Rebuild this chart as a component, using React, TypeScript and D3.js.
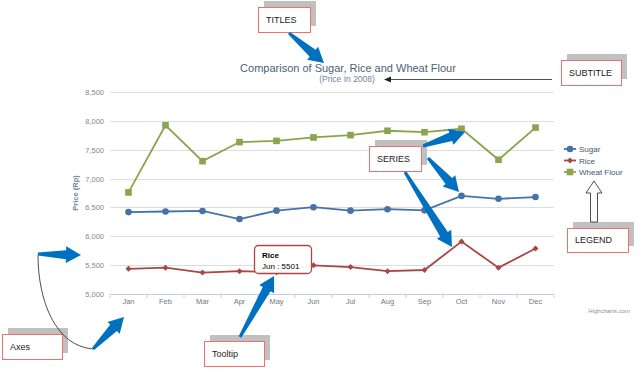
import React from "react";
import * as d3 from "d3";

const months = ["Jan","Feb","Mar","Apr","May","Jun","Jul","Aug","Sep","Oct","Nov","Dec"];
const sugar = [6420,6430,6440,6300,6445,6505,6445,6470,6450,6700,6650,6680];
const rice = [5440,5460,5375,5400,5380,5501,5470,5400,5420,5910,5460,5790];
const wheat = [6760,7920,7300,7630,7650,7710,7750,7825,7800,7860,7325,7880];
const yTicks = [5000,5500,6000,6500,7000,7500,8000,8500];
const seriesNames = ["Sugar","Rice","Wheat Flour"];
const seriesColors = ["#4572A7","#AA4643","#89A54E"];
const tooltipSeries = 1;
const tooltipIndex = 5;

const W = 640, H = 374;
const FONT = "'Liberation Sans', Arial, sans-serif";

type Arrow = { from: [number, number]; to: [number, number] };
const blueArrows: Arrow[] = [
  { from: [289, 33], to: [324, 63] },
  { from: [423, 146], to: [465, 132] },
  { from: [428, 158], to: [459, 192] },
  { from: [405, 172], to: [452, 247] },
  { from: [38, 254], to: [81, 255] },
  { from: [93, 349], to: [124, 317] },
  { from: [240, 337], to: [274, 276] },
];
const labelBoxes = [
  { text: "TITLES", x: 258, y: 7, w: 52, h: 25 },
  { text: "SUBTITLE", x: 561, y: 60, w: 60, h: 25 },
  { text: "SERIES", x: 369, y: 146, w: 52, h: 25 },
  { text: "LEGEND", x: 567, y: 228, w: 61, h: 24 },
  { text: "Axes", x: 2, y: 334, w: 60, h: 25 },
  { text: "Tooltip", x: 204, y: 341, w: 60, h: 25 },
];

function arrowPath(a: Arrow) {
  const [x0, y0] = a.from, [x1, y1] = a.to;
  const dx = x1 - x0, dy = y1 - y0;
  const L = Math.hypot(dx, dy);
  const ux = dx / L, uy = dy / L, nx = -uy, ny = ux;
  const hl = Math.min(15, L * 0.4), hw = 8.5, s0 = 1.5, s1 = 4.5;
  const bx = x1 - ux * hl, by = y1 - uy * hl;
  const pts = [
    [x0 + nx * s0, y0 + ny * s0],
    [bx + nx * s1, by + ny * s1],
    [bx + nx * hw, by + ny * hw],
    [x1, y1],
    [bx - nx * hw, by - ny * hw],
    [bx - nx * s1, by - ny * s1],
    [x0 - nx * s0, y0 - ny * s0],
  ];
  return "M" + pts.map(p => p[0].toFixed(1) + "," + p[1].toFixed(1)).join("L") + "Z";
}

export default function App() {
  const x = d3.scaleBand<string>().domain(months).range([110, 554]);
  const cx = (m: string) => (x(m) as number) + x.bandwidth() / 2;
  const y = d3.scaleLinear().domain([5000, 8500]).range([294.3, 91.7]);
  const data = [sugar, rice, wheat];
  const line = d3.line<number>().x((_, i) => cx(months[i])).y(v => y(v));
  const fmt = d3.format(",");

  const marker = (s: number, px: number, py: number, key: any) => {
    const c = seriesColors[s];
    if (s === 0) return <circle key={key} cx={px} cy={py} r={3.3} fill={c} />;
    if (s === 1) return <path key={key} d={`M${px},${py - 3}L${px + 3},${py}L${px},${py + 3}L${px - 3},${py}Z`} fill={c} />;
    return <rect key={key} x={px - 3.3} y={py - 3.3} width={6.6} height={6.6} fill={c} />;
  };

  const tv = data[tooltipSeries][tooltipIndex];

  return (
    <svg width={W} height={H} style={{ position: "absolute", left: 0, top: 0, background: "#fff" }} fontFamily={FONT}>
      {/* titles */}
      <text x={348} y={72} textAnchor="middle" fontSize={11} fill="#4D6178">Comparison of Sugar, Rice and Wheat Flour</text>
      <text x={347} y={82} textAnchor="middle" fontSize={8.5} fill="#6D869F">(Price In 2008)</text>

      {/* grid */}
      {yTicks.map(t => (
        <g key={t}>
          {t !== 5000 && <line x1={110} x2={554} y1={Math.round(y(t)) + 0.5} y2={Math.round(y(t)) + 0.5} stroke="#DDDDDD" />}
          <text x={104} y={y(t) + 3} textAnchor="end" fontSize={7.5} fill="#888">{fmt(t)}</text>
        </g>
      ))}
      <line x1={110} x2={554} y1={294.5} y2={294.5} stroke="#C0D0E0" />
      {d3.range(months.length + 1).map(i => {
        const xx = 110 + i * x.bandwidth();
        return <line key={i} x1={xx} x2={xx} y1={294.5} y2={298} stroke="#C0D0E0" />;
      })}
      {months.map(m => (
        <text key={m} x={cx(m)} y={304} textAnchor="middle" fontSize={7.5} fill="#777">{m}</text>
      ))}
      <text transform={`translate(78,${(y(5000) + y(8500)) / 2}) rotate(-90)`} textAnchor="middle" fontSize={7.5} fontWeight="bold" fill="#6D869F">Price (Rp)</text>

      {/* series */}
      {data.map((d, s) => (
        <g key={s}>
          <path d={line(d) as string} fill="none" stroke={seriesColors[s]} strokeWidth={1.8} />
          {d.map((v, i) => marker(s, cx(months[i]), y(v), i))}
        </g>
      ))}

      {/* legend */}
      {seriesNames.map((n, s) => {
        const ly = 149 + s * 11.5;
        return (
          <g key={n}>
            <line x1={564} x2={576} y1={ly} y2={ly} stroke={seriesColors[s]} strokeWidth={1.8} />
            {marker(s, 570, ly, "m")}
            <text x={579} y={ly + 3} fontSize={8} fill="#3E576F">{n}</text>
          </g>
        );
      })}
      <text x={630} y={313} textAnchor="end" fontSize={6} fill="#909090">Highcharts.com</text>

      {/* tooltip */}
      <rect x={254.5} y={245.5} width={57} height={28} rx={4} fill="#fff" fillOpacity={0.95} stroke={seriesColors[tooltipSeries]} strokeWidth={1.3} />
      <text x={262} y={258} fontSize={8} fontWeight="bold" fill="#000">{seriesNames[tooltipSeries]}</text>
      <text x={262} y={268.5} fontSize={8} fill="#000">{`${months[tooltipIndex]} : ${tv}`}</text>

      {/* annotation label boxes */}
      {labelBoxes.map(b => (
        <g key={b.text}>
          <rect x={b.x + 6} y={b.y - 6} width={b.w} height={b.h} fill="#C0C0C0" />
          <rect x={b.x + 0.5} y={b.y + 0.5} width={b.w} height={b.h} fill="#fff" stroke="#F07070" strokeWidth={1} />
          <text x={b.x + 8} y={b.y + b.h / 2 + 3} fontSize={9} fill="#222">{b.text}</text>
        </g>
      ))}

      {/* subtitle arrow */}
      <line x1={552} x2={390} y1={79.5} y2={79.5} stroke="#222" strokeWidth={0.8} />
      <path d="M384,79.5L391,76.5L391,82.5Z" fill="#222" />

      {/* legend hollow arrow */}
      <path d="M594,181L602,193L597.5,193L597.5,222L590.5,222L590.5,193L586,193Z" fill="#fff" stroke="#222" strokeWidth={0.8} />

      {/* axes curve */}
      <path d="M38,255C38,300 55,346 93,349" fill="none" stroke="#222" strokeWidth={0.8} />

      {/* blue arrows */}
      {blueArrows.map((a, i) => (
        <path key={i} d={arrowPath(a)} fill="#0070C0" />
      ))}
    </svg>
  );
}
